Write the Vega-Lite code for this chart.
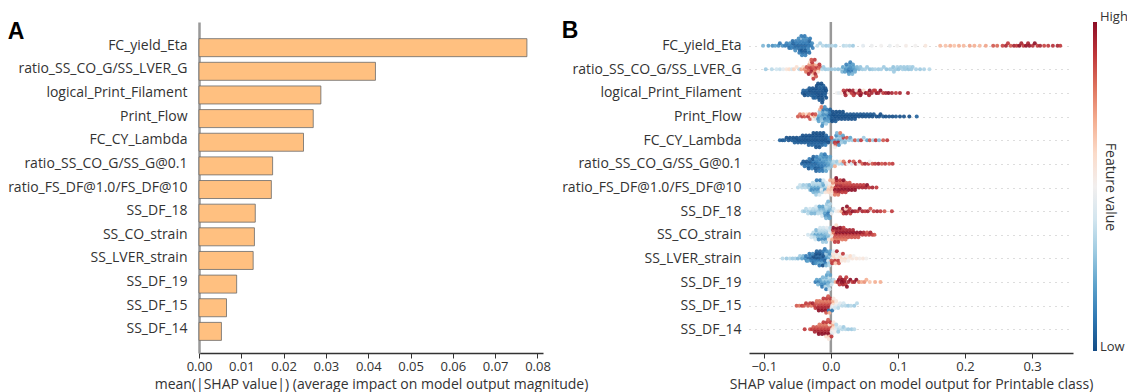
{
"$schema":"https://vega.github.io/schema/vega-lite/v6.json",
"autosize":{"type":"none"},
"padding":{"left":199,"top":22,"right":928,"bottom":370},
"bounds":"flush",
"spacing":206,
"datasets":{
"bars":[{"feature":"FC_yield_Eta","importance":0.0775},{"feature":"ratio_SS_CO_G/SS_LVER_G","importance":0.0417},{"feature":"logical_Print_Filament","importance":0.0288},{"feature":"Print_Flow","importance":0.0270},{"feature":"FC_CY_Lambda","importance":0.0247},{"feature":"ratio_SS_CO_G/SS_G@0.1","importance":0.0174},{"feature":"ratio_FS_DF@1.0/FS_DF@10","importance":0.0171},{"feature":"SS_DF_18","importance":0.0133},{"feature":"SS_CO_strain","importance":0.0131},{"feature":"SS_LVER_strain","importance":0.0128},{"feature":"SS_DF_19","importance":0.0089},{"feature":"SS_DF_15","importance":0.0065},{"feature":"SS_DF_14","importance":0.0053}],
"r1":[{"s":-0.101,"v":0.25},{"s":-0.093,"v":0.2},{"s":-0.087,"v":0.15},{"s":-0.083,"v":0.2},{"s":-0.078,"v":0.15},{"s":-0.076,"v":0.1},{"s":-0.072,"v":0.15},{"s":-0.068,"v":0.1},{"s":-0.066,"v":0.12},
{"s":-0.063,"v":0.1},{"s":-0.061,"v":0.15},{"s":-0.062,"v":0.08},
{"s":-0.058,"v":0.1},{"s":-0.056,"v":0.05},{"s":-0.059,"v":0.12},{"s":-0.057,"v":0.08},
{"s":-0.053,"v":0.05},{"s":-0.051,"v":0.1},{"s":-0.054,"v":0.08},{"s":-0.052,"v":0.12},{"s":-0.053,"v":0.15},
{"s":-0.048,"v":0.05},{"s":-0.046,"v":0.1},{"s":-0.049,"v":0.08},{"s":-0.047,"v":0.12},{"s":-0.046,"v":0.05},{"s":-0.048,"v":0.15},{"s":-0.047,"v":0.1},
{"s":-0.043,"v":0.05},{"s":-0.041,"v":0.1},{"s":-0.044,"v":0.08},{"s":-0.042,"v":0.12},{"s":-0.043,"v":0.03},{"s":-0.041,"v":0.15},{"s":-0.042,"v":0.05},{"s":-0.044,"v":0.1},{"s":-0.043,"v":0.12},
{"s":-0.038,"v":0.05},{"s":-0.036,"v":0.1},{"s":-0.039,"v":0.08},{"s":-0.037,"v":0.12},{"s":-0.038,"v":0.03},{"s":-0.036,"v":0.15},{"s":-0.037,"v":0.05},{"s":-0.039,"v":0.1},{"s":-0.038,"v":0.12},
{"s":-0.033,"v":0.08},{"s":-0.031,"v":0.1},{"s":-0.034,"v":0.12},{"s":-0.032,"v":0.05},{"s":-0.033,"v":0.15},{"s":-0.031,"v":0.1},{"s":-0.032,"v":0.08},
{"s":-0.029,"v":0.1},{"s":-0.028,"v":0.15},{"s":-0.027,"v":0.12},
{"s":-0.02,"v":0.35},{"s":-0.016,"v":0.32},{"s":-0.012,"v":0.35},{"s":-0.007,"v":0.3},{"s":-0.003,"v":0.33},{"s":0.002,"v":0.35},{"s":0.007,"v":0.3},{"s":0.019,"v":0.35},{"s":0.023,"v":0.38},{"s":0.028,"v":0.35},{"s":0.033,"v":0.3},
{"s":0.048,"v":0.45},{"s":0.061,"v":0.48},{"s":0.075,"v":0.5},{"s":0.088,"v":0.47},{"s":0.099,"v":0.5},{"s":0.112,"v":0.52},{"s":0.126,"v":0.5},{"s":0.141,"v":0.55},
{"s":0.163,"v":0.68},{"s":0.171,"v":0.66},{"s":0.178,"v":0.7},{"s":0.184,"v":0.65},{"s":0.191,"v":0.7},{"s":0.198,"v":0.68},{"s":0.207,"v":0.72},{"s":0.214,"v":0.7},{"s":0.222,"v":0.68},{"s":0.231,"v":0.72},
{"s":0.242,"v":0.85},{"s":0.248,"v":0.82},{"s":0.256,"v":0.88},{"s":0.261,"v":0.95},{"s":0.264,"v":0.9},{"s":0.268,"v":0.85},{"s":0.273,"v":0.95},{"s":0.277,"v":0.9},{"s":0.281,"v":1},{"s":0.284,"v":0.95},{"s":0.287,"v":0.9},{"s":0.291,"v":1},{"s":0.294,"v":0.95},{"s":0.296,"v":0.98},{"s":0.301,"v":0.92},{"s":0.304,"v":1},{"s":0.308,"v":0.9},{"s":0.312,"v":0.95},{"s":0.318,"v":0.88},{"s":0.324,"v":0.9},{"s":0.331,"v":0.92},{"s":0.338,"v":0.95},{"s":0.342,"v":0.9}],
"r2":[{"s":-0.097,"v":0.3},{"s":-0.088,"v":0.35},{"s":-0.081,"v":0.4},{"s":-0.076,"v":0.38},{"s":-0.071,"v":0.45},{"s":-0.066,"v":0.55},{"s":-0.062,"v":0.6},{"s":-0.058,"v":0.4},{"s":-0.055,"v":0.62},{"s":-0.051,"v":0.58},{"s":-0.047,"v":0.35},{"s":-0.044,"v":0.7},{"s":-0.041,"v":0.6},{"s":-0.039,"v":0.75},
{"s":-0.036,"v":0.85},{"s":-0.037,"v":0.8},
{"s":-0.033,"v":0.85},{"s":-0.031,"v":0.9},{"s":-0.034,"v":0.8},{"s":-0.032,"v":0.75},{"s":-0.033,"v":0.95},{"s":-0.031,"v":0.6},
{"s":-0.028,"v":0.9},{"s":-0.026,"v":0.85},{"s":-0.029,"v":0.95},{"s":-0.027,"v":0.8},{"s":-0.026,"v":0.7},{"s":-0.028,"v":0.9},{"s":-0.027,"v":0.6},{"s":-0.029,"v":0.85},{"s":-0.026,"v":0.9},
{"s":-0.023,"v":0.85},{"s":-0.021,"v":0.9},{"s":-0.024,"v":0.8},{"s":-0.022,"v":0.7},{"s":-0.023,"v":0.95},{"s":-0.021,"v":0.5},{"s":-0.022,"v":0.85},{"s":-0.024,"v":0.9},
{"s":-0.018,"v":0.8},{"s":-0.016,"v":0.85},{"s":-0.019,"v":0.6},{"s":-0.017,"v":0.9},
{"s":-0.013,"v":0.35},{"s":-0.011,"v":0.3},
{"s":-0.008,"v":0.3},{"s":-0.004,"v":0.32},{"s":0.001,"v":0.3},{"s":0.006,"v":0.3},{"s":0.011,"v":0.28},{"s":0.016,"v":0.3},
{"s":0.018,"v":0.2},{"s":0.017,"v":0.25},
{"s":0.022,"v":0.15},{"s":0.024,"v":0.2},{"s":0.021,"v":0.18},{"s":0.023,"v":0.12},
{"s":0.027,"v":0.12},{"s":0.029,"v":0.15},{"s":0.026,"v":0.1},{"s":0.028,"v":0.18},{"s":0.027,"v":0.2},{"s":0.029,"v":0.12},
{"s":0.032,"v":0.15},{"s":0.034,"v":0.2},{"s":0.031,"v":0.12},{"s":0.033,"v":0.18},{"s":0.032,"v":0.25},
{"s":0.037,"v":0.2},{"s":0.039,"v":0.25},{"s":0.036,"v":0.22},
{"s":0.042,"v":0.25},{"s":0.044,"v":0.28},
{"s":0.047,"v":0.3},{"s":0.051,"v":0.32},{"s":0.054,"v":0.3},{"s":0.058,"v":0.28},{"s":0.062,"v":0.3},{"s":0.066,"v":0.33},{"s":0.071,"v":0.3},{"s":0.075,"v":0.32},{"s":0.079,"v":0.3},{"s":0.083,"v":0.28},{"s":0.088,"v":0.3},{"s":0.091,"v":0.32},{"s":0.093,"v":0.28},{"s":0.094,"v":0.3},{"s":0.097,"v":0.3},{"s":0.099,"v":0.32},{"s":0.101,"v":0.28},{"s":0.104,"v":0.3},{"s":0.107,"v":0.32},{"s":0.109,"v":0.3},{"s":0.111,"v":0.3},{"s":0.114,"v":0.3},{"s":0.116,"v":0.28},{"s":0.118,"v":0.33},{"s":0.12,"v":0.3},{"s":0.122,"v":0.3},{"s":0.127,"v":0.32},{"s":0.133,"v":0.3},{"s":0.139,"v":0.33},{"s":0.147,"v":0.35}],
"r3":[{"s":-0.042,"v":0.02},{"s":-0.041,"v":0.05},
{"s":-0.038,"v":0.02},{"s":-0.036,"v":0.04},{"s":-0.039,"v":0},
{"s":-0.033,"v":0.02},{"s":-0.031,"v":0},{"s":-0.034,"v":0.04},{"s":-0.032,"v":0.03},
{"s":-0.028,"v":0},{"s":-0.026,"v":0.02},{"s":-0.029,"v":0.04},{"s":-0.027,"v":0.01},{"s":-0.026,"v":0.03},
{"s":-0.023,"v":0},{"s":-0.021,"v":0.02},{"s":-0.024,"v":0.03},{"s":-0.022,"v":0.01},{"s":-0.023,"v":0.04},{"s":-0.021,"v":0},
{"s":-0.018,"v":0},{"s":-0.016,"v":0.02},{"s":-0.019,"v":0.01},{"s":-0.017,"v":0.03},{"s":-0.018,"v":0},{"s":-0.016,"v":0.04},{"s":-0.017,"v":0.02},{"s":-0.019,"v":0},
{"s":-0.013,"v":0},{"s":-0.011,"v":0.02},{"s":-0.014,"v":0.01},{"s":-0.012,"v":0.03},{"s":-0.013,"v":0},{"s":-0.011,"v":0.04},{"s":-0.012,"v":0.02},{"s":-0.014,"v":0},{"s":-0.013,"v":0.01},
{"s":-0.008,"v":0.02},{"s":-0.007,"v":0},{"s":-0.009,"v":0.03},{"s":-0.008,"v":0.01},{"s":-0.007,"v":0},
{"s":0.009,"v":0.5},{"s":0.012,"v":0.45},{"s":0.016,"v":0.55},{"s":0.019,"v":0.9},{"s":0.021,"v":1},{"s":0.024,"v":0.95},{"s":0.026,"v":0.6},{"s":0.028,"v":1},{"s":0.031,"v":0.9},{"s":0.033,"v":0.95},{"s":0.036,"v":1},{"s":0.038,"v":0.55},{"s":0.041,"v":0.9},{"s":0.043,"v":1},{"s":0.046,"v":0.95},{"s":0.049,"v":0.6},{"s":0.052,"v":1},{"s":0.055,"v":0.9},{"s":0.058,"v":1},{"s":0.061,"v":0.95},{"s":0.064,"v":0.9},{"s":0.068,"v":1},{"s":0.071,"v":0.95},{"s":0.074,"v":1},{"s":0.078,"v":0.9},{"s":0.082,"v":0.95},{"s":0.086,"v":1},{"s":0.091,"v":0.95},{"s":0.097,"v":0.9},{"s":0.103,"v":0.95},{"s":0.115,"v":0.95},{"s":0.022,"v":0.95},{"s":0.034,"v":0.9},{"s":0.044,"v":1},{"s":0.057,"v":0.95},{"s":0.066,"v":0.9}],
"r4":[{"s":-0.049,"v":0.85},{"s":-0.046,"v":0.8},{"s":-0.043,"v":0.9},{"s":-0.041,"v":0.7},{"s":-0.039,"v":0.85},{"s":-0.036,"v":0.6},{"s":-0.034,"v":0.9},{"s":-0.032,"v":0.75},{"s":-0.031,"v":0.85},{"s":-0.028,"v":0.6},{"s":-0.027,"v":0.9},{"s":-0.026,"v":0.5},{"s":-0.024,"v":0.7},{"s":-0.023,"v":0.85},{"s":-0.022,"v":0.4},
{"s":-0.018,"v":0.2},{"s":-0.016,"v":0.25},{"s":-0.019,"v":0.15},{"s":-0.017,"v":0.3},{"s":-0.018,"v":0.2},{"s":-0.016,"v":0.7},
{"s":-0.013,"v":0.2},{"s":-0.011,"v":0.15},{"s":-0.014,"v":0.25},{"s":-0.012,"v":0.2},{"s":-0.013,"v":0.3},{"s":-0.011,"v":0.1},{"s":-0.012,"v":0.2},{"s":-0.014,"v":0.8},{"s":-0.013,"v":0.15},
{"s":-0.008,"v":0.2},{"s":-0.006,"v":0.15},{"s":-0.009,"v":0.1},{"s":-0.007,"v":0.25},{"s":-0.008,"v":0.2},{"s":-0.006,"v":0.1},{"s":-0.007,"v":0.3},{"s":-0.009,"v":0.15},
{"s":-0.003,"v":0.1},{"s":-0.001,"v":0.05},{"s":-0.004,"v":0.15},{"s":-0.002,"v":0.1},{"s":-0.003,"v":0.2},{"s":-0.001,"v":0.05},
{"s":0.002,"v":0.02},{"s":0.004,"v":0},{"s":0.001,"v":0.03},{"s":0.003,"v":0.01},{"s":0.002,"v":0},
{"s":0.007,"v":0},{"s":0.009,"v":0.02},{"s":0.006,"v":0.01},{"s":0.008,"v":0},{"s":0.007,"v":0.03},
{"s":0.012,"v":0},{"s":0.014,"v":0.02},{"s":0.011,"v":0.01},{"s":0.013,"v":0},
{"s":0.017,"v":0},{"s":0.019,"v":0.02},{"s":0.016,"v":0.01},{"s":0.018,"v":0},
{"s":0.022,"v":0},{"s":0.024,"v":0.02},{"s":0.021,"v":0.01},
{"s":0.027,"v":0},{"s":0.029,"v":0.02},{"s":0.026,"v":0.01},
{"s":0.032,"v":0},{"s":0.034,"v":0.02},{"s":0.031,"v":0.01},
{"s":0.037,"v":0},{"s":0.039,"v":0.02},{"s":0.036,"v":0.01},
{"s":0.042,"v":0},{"s":0.044,"v":0.02},{"s":0.047,"v":0},{"s":0.049,"v":0.02},{"s":0.052,"v":0},{"s":0.054,"v":0.02},{"s":0.057,"v":0},{"s":0.059,"v":0.02},
{"s":0.062,"v":0},{"s":0.064,"v":0.02},{"s":0.068,"v":0},{"s":0.072,"v":0.01},{"s":0.074,"v":0},{"s":0.078,"v":0.02},{"s":0.082,"v":0},{"s":0.087,"v":0.01},{"s":0.092,"v":0},{"s":0.097,"v":0.02},{"s":0.103,"v":0},{"s":0.109,"v":0.01},{"s":0.117,"v":0},{"s":0.128,"v":0.05}],
"r5":[{"s":-0.076,"v":0.05},{"s":-0.072,"v":0.02},{"s":-0.069,"v":0.05},{"s":-0.066,"v":0},
{"s":-0.063,"v":0.02},{"s":-0.061,"v":0},{"s":-0.058,"v":0.03},{"s":-0.056,"v":0},
{"s":-0.053,"v":0.02},{"s":-0.051,"v":0},{"s":-0.054,"v":0.04},
{"s":-0.048,"v":0},{"s":-0.046,"v":0.02},{"s":-0.049,"v":0.03},
{"s":-0.043,"v":0},{"s":-0.041,"v":0.02},{"s":-0.044,"v":0.03},{"s":-0.042,"v":0.01},
{"s":-0.038,"v":0},{"s":-0.036,"v":0.02},{"s":-0.039,"v":0.03},{"s":-0.037,"v":0.01},
{"s":-0.033,"v":0},{"s":-0.031,"v":0.02},{"s":-0.034,"v":0.03},{"s":-0.032,"v":0.01},{"s":-0.033,"v":0.05},
{"s":-0.028,"v":0},{"s":-0.026,"v":0.02},{"s":-0.029,"v":0.03},{"s":-0.027,"v":0.01},{"s":-0.028,"v":0.05},{"s":-0.026,"v":0},
{"s":-0.023,"v":0},{"s":-0.021,"v":0.02},{"s":-0.024,"v":0.03},{"s":-0.022,"v":0.01},{"s":-0.023,"v":0.05},{"s":-0.021,"v":0},{"s":-0.022,"v":0.02},
{"s":-0.018,"v":0},{"s":-0.016,"v":0.02},{"s":-0.019,"v":0.03},{"s":-0.017,"v":0.01},{"s":-0.018,"v":0.05},{"s":-0.016,"v":0},{"s":-0.017,"v":0.02},
{"s":-0.013,"v":0},{"s":-0.011,"v":0.02},{"s":-0.014,"v":0.03},{"s":-0.012,"v":0.01},{"s":-0.013,"v":0.05},{"s":-0.011,"v":0},
{"s":-0.008,"v":0},{"s":-0.006,"v":0.02},{"s":-0.009,"v":0.03},{"s":-0.007,"v":0.05},{"s":-0.008,"v":0.1},
{"s":-0.003,"v":0.05},{"s":-0.002,"v":0.1},{"s":-0.004,"v":0},
{"s":0.003,"v":0.2},{"s":0.001,"v":0.85},{"s":0.004,"v":0.25},
{"s":0.007,"v":0.2},{"s":0.009,"v":0.3},{"s":0.006,"v":0.9},{"s":0.008,"v":0.15},{"s":0.007,"v":0.85},{"s":0.009,"v":0.25},{"s":0.006,"v":0.5},
{"s":0.012,"v":0.2},{"s":0.014,"v":0.3},{"s":0.011,"v":0.95},{"s":0.013,"v":0.25},{"s":0.012,"v":0.15},{"s":0.014,"v":0.8},
{"s":0.017,"v":0.25},{"s":0.019,"v":0.9},{"s":0.016,"v":0.3},{"s":0.018,"v":0.2},
{"s":0.022,"v":0.3},{"s":0.024,"v":0.85},{"s":0.021,"v":0.25},
{"s":0.027,"v":0.3},{"s":0.029,"v":0.2},
{"s":0.032,"v":0.3},{"s":0.036,"v":0.85},{"s":0.041,"v":0.25},{"s":0.045,"v":0.9},{"s":0.049,"v":0.3},{"s":0.054,"v":0.2},{"s":0.058,"v":0.85},{"s":0.063,"v":0.3},{"s":0.067,"v":0.9},{"s":0.072,"v":0.25},{"s":0.078,"v":0.85},{"s":0.084,"v":0.9}],
"r6":[{"s":-0.043,"v":0.05},{"s":-0.041,"v":0.02},
{"s":-0.038,"v":0.05},{"s":-0.036,"v":0.02},{"s":-0.039,"v":0.08},
{"s":-0.033,"v":0.05},{"s":-0.031,"v":0.02},{"s":-0.034,"v":0.08},{"s":-0.032,"v":0.1},{"s":-0.033,"v":0.03},
{"s":-0.028,"v":0.05},{"s":-0.026,"v":0.1},{"s":-0.029,"v":0.08},{"s":-0.027,"v":0.02},{"s":-0.028,"v":0.12},{"s":-0.026,"v":0.05},
{"s":-0.023,"v":0.05},{"s":-0.021,"v":0.1},{"s":-0.024,"v":0.08},{"s":-0.022,"v":0.15},{"s":-0.023,"v":0.03},{"s":-0.021,"v":0.12},{"s":-0.022,"v":0.05},
{"s":-0.018,"v":0.1},{"s":-0.016,"v":0.15},{"s":-0.019,"v":0.08},{"s":-0.017,"v":0.12},{"s":-0.018,"v":0.05},{"s":-0.016,"v":0.2},{"s":-0.017,"v":0.1},
{"s":-0.013,"v":0.12},{"s":-0.011,"v":0.15},{"s":-0.014,"v":0.1},{"s":-0.012,"v":0.2},{"s":-0.013,"v":0.08},{"s":-0.011,"v":0.15},{"s":-0.012,"v":0.1},{"s":-0.014,"v":0.18},
{"s":-0.008,"v":0.15},{"s":-0.006,"v":0.2},{"s":-0.009,"v":0.12},{"s":-0.007,"v":0.18},{"s":-0.008,"v":0.25},{"s":-0.006,"v":0.15},{"s":-0.007,"v":0.2},{"s":-0.009,"v":0.1},
{"s":-0.003,"v":0.2},{"s":-0.001,"v":0.25},{"s":-0.004,"v":0.18},{"s":-0.002,"v":0.22},{"s":-0.003,"v":0.3},{"s":-0.001,"v":0.2},
{"s":0.002,"v":0.3},{"s":0.004,"v":0.35},{"s":0.001,"v":0.28},
{"s":0.007,"v":0.35},{"s":0.009,"v":0.3},{"s":0.006,"v":0.7},
{"s":0.012,"v":0.35},{"s":0.014,"v":0.6},{"s":0.017,"v":0.3},{"s":0.019,"v":0.8},
{"s":0.022,"v":0.85},{"s":0.025,"v":0.5},{"s":0.028,"v":0.9},{"s":0.031,"v":0.4},{"s":0.034,"v":0.85},{"s":0.037,"v":0.95},{"s":0.041,"v":0.5},{"s":0.043,"v":0.9},{"s":0.047,"v":0.85},{"s":0.051,"v":0.95},{"s":0.056,"v":0.9},{"s":0.058,"v":0.5},{"s":0.062,"v":0.85},{"s":0.066,"v":0.9},{"s":0.071,"v":0.95},{"s":0.076,"v":0.85},{"s":0.081,"v":0.9},{"s":0.087,"v":0.85},{"s":0.092,"v":0.9}],
"r7":[{"s":-0.049,"v":0.35},{"s":-0.046,"v":0.38},{"s":-0.043,"v":0.35},{"s":-0.041,"v":0.3},{"s":-0.038,"v":0.35},{"s":-0.036,"v":0.32},{"s":-0.033,"v":0.3},
{"s":-0.032,"v":0.25},{"s":-0.031,"v":0.3},
{"s":-0.028,"v":0.2},{"s":-0.026,"v":0.3},{"s":-0.029,"v":0.15},{"s":-0.027,"v":0.35},{"s":-0.026,"v":0.25},
{"s":-0.023,"v":0.2},{"s":-0.021,"v":0.3},{"s":-0.024,"v":0.15},{"s":-0.022,"v":0.35},{"s":-0.023,"v":0.25},{"s":-0.021,"v":0.1},{"s":-0.022,"v":0.3},
{"s":-0.018,"v":0.2},{"s":-0.016,"v":0.3},{"s":-0.019,"v":0.15},{"s":-0.017,"v":0.35},{"s":-0.018,"v":0.25},{"s":-0.016,"v":0.1},{"s":-0.017,"v":0.4},
{"s":-0.013,"v":0.3},{"s":-0.011,"v":0.2},{"s":-0.014,"v":0.45},{"s":-0.012,"v":0.25},{"s":-0.013,"v":0.35},{"s":-0.011,"v":0.4},
{"s":-0.008,"v":0.3},{"s":-0.006,"v":0.4},{"s":-0.009,"v":0.2},{"s":-0.007,"v":0.45},{"s":-0.008,"v":0.55},
{"s":-0.003,"v":0.6},{"s":-0.001,"v":0.55},{"s":-0.004,"v":0.65},{"s":-0.002,"v":0.5},{"s":-0.003,"v":0.6},{"s":-0.001,"v":0.7},
{"s":0.002,"v":0.7},{"s":0.004,"v":0.6},{"s":0.001,"v":0.65},{"s":0.003,"v":0.75},{"s":0.002,"v":0.6},{"s":0.004,"v":0.7},{"s":0.001,"v":0.55},
{"s":0.007,"v":0.9},{"s":0.009,"v":0.95},{"s":0.006,"v":1},{"s":0.008,"v":0.85},{"s":0.007,"v":0.9},{"s":0.009,"v":0.95},{"s":0.006,"v":0.8},{"s":0.008,"v":1},
{"s":0.012,"v":0.9},{"s":0.014,"v":0.95},{"s":0.011,"v":1},{"s":0.013,"v":0.85},{"s":0.012,"v":0.95},{"s":0.014,"v":0.9},{"s":0.011,"v":0.8},
{"s":0.017,"v":0.95},{"s":0.019,"v":0.9},{"s":0.016,"v":1},{"s":0.018,"v":0.85},{"s":0.017,"v":0.9},{"s":0.019,"v":1},
{"s":0.022,"v":0.95},{"s":0.024,"v":0.9},{"s":0.021,"v":1},{"s":0.023,"v":0.85},{"s":0.022,"v":0.9},
{"s":0.027,"v":0.95},{"s":0.029,"v":0.9},{"s":0.026,"v":1},{"s":0.028,"v":0.85},
{"s":0.032,"v":0.95},{"s":0.034,"v":0.9},{"s":0.031,"v":1},
{"s":0.037,"v":0.95},{"s":0.039,"v":0.9},{"s":0.036,"v":1},
{"s":0.042,"v":0.95},{"s":0.044,"v":0.9},{"s":0.047,"v":0.95},{"s":0.049,"v":0.9},{"s":0.052,"v":0.95},{"s":0.054,"v":1},
{"s":0.057,"v":0.9},{"s":0.062,"v":0.95},{"s":0.068,"v":0.9}],
"r8":[{"s":-0.042,"v":0.35},
{"s":-0.039,"v":0.3},{"s":-0.037,"v":0.35},
{"s":-0.033,"v":0.3},{"s":-0.031,"v":0.4},{"s":-0.034,"v":0.35},
{"s":-0.028,"v":0.3},{"s":-0.026,"v":0.35},{"s":-0.029,"v":0.25},
{"s":-0.023,"v":0.3},{"s":-0.021,"v":0.35},{"s":-0.024,"v":0.25},{"s":-0.022,"v":0.4},
{"s":-0.018,"v":0.3},{"s":-0.016,"v":0.25},{"s":-0.019,"v":0.35},{"s":-0.017,"v":0.2},
{"s":-0.013,"v":0.3},{"s":-0.011,"v":0.25},{"s":-0.014,"v":0.35},{"s":-0.012,"v":0.2},{"s":-0.013,"v":0.4},
{"s":-0.008,"v":0.25},{"s":-0.006,"v":0.3},{"s":-0.009,"v":0.2},{"s":-0.007,"v":0.35},{"s":-0.008,"v":0.15},{"s":-0.006,"v":0.3},{"s":-0.007,"v":0.25},
{"s":-0.003,"v":0.2},{"s":-0.001,"v":0.25},{"s":-0.004,"v":0.1},{"s":-0.002,"v":0.3},{"s":-0.003,"v":0.15},{"s":-0.001,"v":0.35},{"s":-0.002,"v":0.2},{"s":-0.004,"v":0.25},
{"s":0.002,"v":0.3},{"s":0.004,"v":0.4},{"s":0.001,"v":0.45},
{"s":0.008,"v":0.5},{"s":0.012,"v":0.55},{"s":0.016,"v":0.7},{"s":0.018,"v":1},{"s":0.019,"v":0.9},{"s":0.021,"v":1},{"s":0.022,"v":0.6},{"s":0.023,"v":0.95},{"s":0.024,"v":1},{"s":0.026,"v":0.95},{"s":0.028,"v":0.9},{"s":0.029,"v":0.9},{"s":0.032,"v":1},{"s":0.036,"v":0.95},{"s":0.04,"v":0.9},{"s":0.043,"v":1},{"s":0.047,"v":0.95},{"s":0.051,"v":0.9},{"s":0.055,"v":0.95},{"s":0.059,"v":0.85},{"s":0.064,"v":0.9},{"s":0.069,"v":0.95},{"s":0.074,"v":0.9},{"s":0.08,"v":0.85},{"s":0.091,"v":0.9}],
"r9":[{"s":-0.034,"v":0.4},
{"s":-0.028,"v":0.3},{"s":-0.026,"v":0.35},{"s":-0.029,"v":0.4},
{"s":-0.023,"v":0.2},{"s":-0.021,"v":0.3},{"s":-0.024,"v":0.35},{"s":-0.022,"v":0.25},{"s":-0.023,"v":0.4},
{"s":-0.018,"v":0.2},{"s":-0.016,"v":0.3},{"s":-0.019,"v":0.25},{"s":-0.017,"v":0.35},{"s":-0.018,"v":0.15},{"s":-0.016,"v":0.4},
{"s":-0.013,"v":0.2},{"s":-0.011,"v":0.3},{"s":-0.014,"v":0.25},{"s":-0.012,"v":0.35},{"s":-0.013,"v":0.15},{"s":-0.011,"v":0.4},{"s":-0.012,"v":0.3},
{"s":-0.008,"v":0.25},{"s":-0.006,"v":0.3},{"s":-0.009,"v":0.2},{"s":-0.007,"v":0.35},{"s":-0.008,"v":0.15},{"s":-0.006,"v":0.45},{"s":-0.007,"v":0.3},
{"s":-0.003,"v":0.3},{"s":-0.001,"v":0.5},{"s":-0.004,"v":0.25},{"s":-0.002,"v":0.4},{"s":-0.003,"v":0.55},{"s":-0.001,"v":0.35},
{"s":0.002,"v":0.6},{"s":0.004,"v":0.8},{"s":0.001,"v":0.5},{"s":0.003,"v":0.9},{"s":0.002,"v":0.7},{"s":0.004,"v":1},
{"s":0.007,"v":0.9},{"s":0.009,"v":1},{"s":0.006,"v":0.85},{"s":0.008,"v":0.95},{"s":0.007,"v":0.8},{"s":0.009,"v":1},{"s":0.006,"v":0.9},{"s":0.008,"v":0.6},
{"s":0.012,"v":0.9},{"s":0.014,"v":1},{"s":0.011,"v":0.85},{"s":0.013,"v":0.95},{"s":0.012,"v":0.8},{"s":0.014,"v":1},{"s":0.011,"v":0.9},
{"s":0.017,"v":0.9},{"s":0.019,"v":1},{"s":0.016,"v":0.85},{"s":0.018,"v":0.95},{"s":0.017,"v":0.8},{"s":0.019,"v":0.9},
{"s":0.022,"v":0.9},{"s":0.024,"v":1},{"s":0.021,"v":0.85},{"s":0.023,"v":0.95},{"s":0.022,"v":0.8},
{"s":0.027,"v":0.9},{"s":0.029,"v":1},{"s":0.026,"v":0.85},{"s":0.028,"v":0.95},
{"s":0.032,"v":0.9},{"s":0.034,"v":1},{"s":0.031,"v":0.85},{"s":0.033,"v":0.95},
{"s":0.037,"v":0.9},{"s":0.039,"v":1},{"s":0.036,"v":0.85},
{"s":0.042,"v":0.9},{"s":0.044,"v":1},{"s":0.041,"v":0.85},
{"s":0.047,"v":0.9},{"s":0.049,"v":0.95},{"s":0.052,"v":0.9},{"s":0.054,"v":0.85},{"s":0.057,"v":0.9},{"s":0.059,"v":0.95},{"s":0.062,"v":0.9},{"s":0.065,"v":0.85}],
"r10":[{"s":-0.072,"v":0.35},{"s":-0.066,"v":0.3},{"s":-0.061,"v":0.35},{"s":-0.057,"v":0.3},{"s":-0.053,"v":0.32},{"s":-0.049,"v":0.25},{"s":-0.046,"v":0.3},{"s":-0.043,"v":0.2},{"s":-0.041,"v":0.25},{"s":-0.038,"v":0.15},
{"s":-0.037,"v":0.1},{"s":-0.036,"v":0.15},
{"s":-0.033,"v":0.05},{"s":-0.031,"v":0.1},{"s":-0.034,"v":0.2},{"s":-0.032,"v":0.1},
{"s":-0.028,"v":0.05},{"s":-0.026,"v":0},{"s":-0.029,"v":0.1},{"s":-0.027,"v":0.15},{"s":-0.026,"v":0.05},
{"s":-0.023,"v":0},{"s":-0.021,"v":0.05},{"s":-0.024,"v":0.1},{"s":-0.022,"v":0},{"s":-0.023,"v":0.15},{"s":-0.021,"v":0.05},
{"s":-0.018,"v":0},{"s":-0.016,"v":0.05},{"s":-0.019,"v":0.1},{"s":-0.017,"v":0},{"s":-0.018,"v":0.2},{"s":-0.016,"v":0.05},{"s":-0.017,"v":0.1},
{"s":-0.013,"v":0.05},{"s":-0.011,"v":0},{"s":-0.014,"v":0.1},{"s":-0.012,"v":0.05},{"s":-0.013,"v":0.2},{"s":-0.011,"v":0.1},{"s":-0.012,"v":0},
{"s":-0.008,"v":0.1},{"s":-0.006,"v":0.2},{"s":-0.009,"v":0.05},{"s":-0.007,"v":0.3},{"s":-0.008,"v":0.1},{"s":-0.006,"v":0.15},{"s":-0.007,"v":0.25},{"s":-0.009,"v":0.1},
{"s":-0.003,"v":0.2},{"s":-0.001,"v":0.3},{"s":-0.004,"v":0.4},{"s":-0.002,"v":0.15},{"s":-0.003,"v":0.3},{"s":-0.001,"v":0.2},{"s":-0.002,"v":0.35},
{"s":0.002,"v":0.5},{"s":0.004,"v":0.6},{"s":0.001,"v":0.85},{"s":0.003,"v":0.55},{"s":0.002,"v":0.9},{"s":0.004,"v":0.45},
{"s":0.007,"v":0.6},{"s":0.009,"v":0.5},{"s":0.006,"v":0.9},{"s":0.008,"v":0.55},{"s":0.007,"v":0.65},{"s":0.009,"v":0.95},
{"s":0.012,"v":0.55},{"s":0.014,"v":0.6},{"s":0.011,"v":0.9},{"s":0.013,"v":0.5},{"s":0.012,"v":0.85},
{"s":0.017,"v":0.6},{"s":0.019,"v":0.5},{"s":0.016,"v":0.55},{"s":0.018,"v":0.9},
{"s":0.022,"v":0.6},{"s":0.024,"v":0.5},{"s":0.021,"v":0.55},
{"s":0.027,"v":0.55},{"s":0.029,"v":0.6},{"s":0.026,"v":0.5},
{"s":0.032,"v":0.55},{"s":0.034,"v":0.5},
{"s":0.038,"v":0.55},{"s":0.043,"v":0.52},{"s":0.048,"v":0.55},{"s":0.053,"v":0.5}],
"r11":[{"s":-0.023,"v":0.1},{"s":-0.021,"v":0.2},
{"s":-0.018,"v":0.1},{"s":-0.016,"v":0.2},{"s":-0.019,"v":0.25},
{"s":-0.013,"v":0.2},{"s":-0.011,"v":0.3},{"s":-0.014,"v":0.15},{"s":-0.012,"v":0.25},{"s":-0.013,"v":0.1},
{"s":-0.008,"v":0.2},{"s":-0.006,"v":0.3},{"s":-0.009,"v":0.15},{"s":-0.007,"v":0.25},{"s":-0.008,"v":0.35},{"s":-0.006,"v":0.2},{"s":-0.007,"v":0.1},
{"s":-0.003,"v":0.2},{"s":-0.001,"v":0.3},{"s":-0.004,"v":0.25},{"s":-0.002,"v":0.35},{"s":-0.003,"v":0.3},{"s":-0.001,"v":0.2},{"s":-0.002,"v":0.4},{"s":-0.004,"v":0.25},
{"s":0.002,"v":0.3},{"s":0.004,"v":0.35},{"s":0.001,"v":0.4},
{"s":0.007,"v":0.7},{"s":0.01,"v":0.95},{"s":0.012,"v":1},{"s":0.013,"v":0.9},{"s":0.014,"v":0.9},{"s":0.016,"v":1},{"s":0.017,"v":1},{"s":0.018,"v":0.95},{"s":0.02,"v":1},{"s":0.021,"v":0.95},{"s":0.022,"v":0.9},{"s":0.023,"v":0.9},{"s":0.024,"v":1},{"s":0.026,"v":0.95},{"s":0.029,"v":1},{"s":0.032,"v":0.9},{"s":0.035,"v":0.95},{"s":0.038,"v":1},{"s":0.042,"v":0.8},{"s":0.046,"v":0.7},{"s":0.05,"v":0.75},{"s":0.053,"v":0.7},{"s":0.058,"v":0.65},{"s":0.066,"v":0.7},{"s":0.074,"v":0.7}],
"r12":[{"s":-0.051,"v":0.85},{"s":-0.047,"v":0.8},{"s":-0.043,"v":0.9},{"s":-0.04,"v":0.85},{"s":-0.037,"v":0.9},{"s":-0.034,"v":0.85},{"s":-0.031,"v":0.9},{"s":-0.029,"v":0.8},{"s":-0.027,"v":0.95},{"s":-0.024,"v":0.9},{"s":-0.022,"v":0.85},
{"s":-0.023,"v":0.9},{"s":-0.021,"v":0.8},
{"s":-0.018,"v":0.9},{"s":-0.016,"v":0.85},{"s":-0.019,"v":0.95},{"s":-0.017,"v":0.8},{"s":-0.018,"v":1},
{"s":-0.013,"v":0.9},{"s":-0.011,"v":0.85},{"s":-0.014,"v":0.95},{"s":-0.012,"v":0.8},{"s":-0.013,"v":1},{"s":-0.011,"v":0.9},
{"s":-0.008,"v":0.9},{"s":-0.006,"v":0.85},{"s":-0.009,"v":0.95},{"s":-0.007,"v":0.8},{"s":-0.008,"v":1},{"s":-0.006,"v":0.9},{"s":-0.007,"v":0.85},
{"s":-0.003,"v":0.9},{"s":-0.001,"v":0.85},{"s":-0.004,"v":0.95},{"s":-0.002,"v":0.8},{"s":-0.003,"v":0.1},{"s":-0.001,"v":0.9},{"s":-0.002,"v":0.7},{"s":-0.004,"v":0.85},
{"s":0.002,"v":0.5},{"s":0.004,"v":0.6},{"s":0.001,"v":0.45},{"s":0.003,"v":0.7},{"s":0.002,"v":0.1},{"s":0.004,"v":0.55},
{"s":0.007,"v":0.45},{"s":0.009,"v":0.5},{"s":0.006,"v":0.4},{"s":0.008,"v":0.55},
{"s":0.012,"v":0.4},{"s":0.014,"v":0.45},{"s":0.011,"v":0.35},
{"s":0.017,"v":0.35},{"s":0.019,"v":0.4},
{"s":0.022,"v":0.35},{"s":0.026,"v":0.3},{"s":0.03,"v":0.35},{"s":0.035,"v":0.3},{"s":0.039,"v":0.35}],
"r13":[{"s":-0.039,"v":0.9},{"s":-0.031,"v":0.85},{"s":-0.028,"v":0.9},{"s":-0.026,"v":0.85},
{"s":-0.023,"v":0.9},{"s":-0.021,"v":0.85},{"s":-0.024,"v":0.95},
{"s":-0.018,"v":0.9},{"s":-0.016,"v":0.85},{"s":-0.019,"v":0.95},{"s":-0.017,"v":0.8},{"s":-0.018,"v":1},
{"s":-0.013,"v":0.9},{"s":-0.011,"v":0.85},{"s":-0.014,"v":0.95},{"s":-0.012,"v":0.8},{"s":-0.013,"v":1},{"s":-0.011,"v":0.9},
{"s":-0.008,"v":0.9},{"s":-0.006,"v":0.85},{"s":-0.009,"v":0.95},{"s":-0.007,"v":0.8},{"s":-0.008,"v":1},{"s":-0.006,"v":0.9},{"s":-0.007,"v":0.6},
{"s":-0.003,"v":0.9},{"s":-0.001,"v":0.85},{"s":-0.004,"v":0.95},{"s":-0.002,"v":0.6},{"s":-0.003,"v":1},{"s":-0.001,"v":0.9},{"s":-0.002,"v":0.65},{"s":-0.004,"v":0.85},{"s":-0.003,"v":0.55},
{"s":0.002,"v":0.55},{"s":0.004,"v":0.6},{"s":0.001,"v":0.5},{"s":0.003,"v":0.7},{"s":0.002,"v":0.45},{"s":0.004,"v":0.55},{"s":0.001,"v":0.9},
{"s":0.007,"v":0.45},{"s":0.009,"v":0.4},{"s":0.006,"v":0.5},{"s":0.008,"v":0.35},
{"s":0.012,"v":0.35},{"s":0.014,"v":0.4},{"s":0.011,"v":0.3},
{"s":0.017,"v":0.35},{"s":0.019,"v":0.3},
{"s":0.022,"v":0.35},{"s":0.026,"v":0.3},{"s":0.031,"v":0.3},{"s":0.035,"v":0.35}]
},
"hconcat":[
{
"width":344,"height":331,
"title":{"text":"A","anchor":"start","frame":"bounds","font":"Liberation Sans","fontSize":23,"fontWeight":"bold","color":"#000000","baseline":"alphabetic","offset":-40},
"data":{"name":"bars"},
"mark":{"type":"bar","fill":"#FFC080","stroke":"#6a6a6a","strokeWidth":0.8},
"encoding":{
"y":{"field":"feature","type":"nominal","sort":null,"scale":{"domain":["FC_yield_Eta","ratio_SS_CO_G/SS_LVER_G","logical_Print_Filament","Print_Flow","FC_CY_Lambda","ratio_SS_CO_G/SS_G@0.1","ratio_FS_DF@1.0/FS_DF@10","SS_DF_18","SS_CO_strain","SS_LVER_strain","SS_DF_19","SS_DF_15","SS_DF_14"],"paddingInner":0.41,"paddingOuter":0.705},"axis":{"title":null,"ticks":false,"labelPadding":12,"domainColor":"#999999","domainWidth":2.5}},
"x":{"field":"importance","type":"quantitative","scale":{"domain":[0,0.0813],"nice":false},"axis":{"values":[0,0.01,0.02,0.03,0.04,0.05,0.06,0.07,0.08],"format":".2f","title":"mean(|SHAP value|) (average impact on model output magnitude)","domainWidth":1.5}}
}
},
{
"width":324,"height":331,
"title":{"text":"B","anchor":"start","frame":"bounds","font":"Liberation Sans","fontSize":23,"fontWeight":"bold","color":"#000000","baseline":"alphabetic","offset":-40},
"layer":[
{"data":{"values":[{}]},"mark":{"type":"rule","color":"#999999","strokeWidth":2.5},"encoding":{"x":{"datum":0,"type":"quantitative","scale":{"domain":[-0.122,0.361],"nice":false},"axis":{"values":[-0.1,0,0.1,0.2,0.3],"format":".1f","title":"SHAP value (impact on model output for Printable class)","domainWidth":1.5}}}},
{
"encoding":{
"x":{"field":"s","type":"quantitative"},
"yOffset":{"field":"k","type":"nominal","scale":{"type":"point","domain":[20,18,16,14,12,10,8,6,4,2,1,3,5,7,9,11,13,15,17,19,21],"range":[-25,25]}},
"color":{"field":"v","type":"quantitative","scale":{"scheme":"redblue","reverse":true,"domain":[0,1]},"legend":{"orient":"none","legendX":894,"legendY":0,"direction":"vertical","gradientLength":329,"gradientThickness":4,"gradientStrokeWidth":0,"values":[0,1],"labelExpr":"datum.value > 0.5 ? 'High' : 'Low'","title":"Feature value","titleOrient":"right","titleAngle":270,"titleAnchor":"middle","titlePadding":-25,"titleFontSize":14,"titleFontWeight":"normal","titleColor":"#333333","labelFontSize":13,"labelColor":"#333333","labelOffset":3,"encode":{"labels":{"update":{"dy":{"signal":"datum.value > 0.5 ? -11 : 3"}}}}}}
},
"layer":[
{"data":{"name":"r1"},"transform":[{"bin":{"step":0.005,"extent":[-0.15,0.4]},"field":"s","as":"b"},{"window":[{"op":"row_number","as":"k"}],"groupby":["b"]}],"mark":"circle","encoding":{"y":{"datum":"FC_yield_Eta","type":"nominal","scale":{"type":"point","padding":1,"domain":["FC_yield_Eta","ratio_SS_CO_G/SS_LVER_G","logical_Print_Filament","Print_Flow","FC_CY_Lambda","ratio_SS_CO_G/SS_G@0.1","ratio_FS_DF@1.0/FS_DF@10","SS_DF_18","SS_CO_strain","SS_LVER_strain","SS_DF_19","SS_DF_15","SS_DF_14"]},"axis":{"title":null,"domain":false,"ticks":false,"labelPadding":8,"grid":true,"gridColor":"#bbbbbb","gridDash":[1,5],"gridWidth":1}}}},
{"data":{"name":"r2"},"transform":[{"bin":{"step":0.005,"extent":[-0.15,0.4]},"field":"s","as":"b"},{"window":[{"op":"row_number","as":"k"}],"groupby":["b"]}],"mark":"circle","encoding":{"y":{"datum":"ratio_SS_CO_G/SS_LVER_G","type":"nominal"}}},
{"data":{"name":"r3"},"transform":[{"bin":{"step":0.005,"extent":[-0.15,0.4]},"field":"s","as":"b"},{"window":[{"op":"row_number","as":"k"}],"groupby":["b"]}],"mark":"circle","encoding":{"y":{"datum":"logical_Print_Filament","type":"nominal"}}},
{"data":{"name":"r4"},"transform":[{"bin":{"step":0.005,"extent":[-0.15,0.4]},"field":"s","as":"b"},{"window":[{"op":"row_number","as":"k"}],"groupby":["b"]}],"mark":"circle","encoding":{"y":{"datum":"Print_Flow","type":"nominal"}}},
{"data":{"name":"r5"},"transform":[{"bin":{"step":0.005,"extent":[-0.15,0.4]},"field":"s","as":"b"},{"window":[{"op":"row_number","as":"k"}],"groupby":["b"]}],"mark":"circle","encoding":{"y":{"datum":"FC_CY_Lambda","type":"nominal"}}},
{"data":{"name":"r6"},"transform":[{"bin":{"step":0.005,"extent":[-0.15,0.4]},"field":"s","as":"b"},{"window":[{"op":"row_number","as":"k"}],"groupby":["b"]}],"mark":"circle","encoding":{"y":{"datum":"ratio_SS_CO_G/SS_G@0.1","type":"nominal"}}},
{"data":{"name":"r7"},"transform":[{"bin":{"step":0.005,"extent":[-0.15,0.4]},"field":"s","as":"b"},{"window":[{"op":"row_number","as":"k"}],"groupby":["b"]}],"mark":"circle","encoding":{"y":{"datum":"ratio_FS_DF@1.0/FS_DF@10","type":"nominal"}}},
{"data":{"name":"r8"},"transform":[{"bin":{"step":0.005,"extent":[-0.15,0.4]},"field":"s","as":"b"},{"window":[{"op":"row_number","as":"k"}],"groupby":["b"]}],"mark":"circle","encoding":{"y":{"datum":"SS_DF_18","type":"nominal"}}},
{"data":{"name":"r9"},"transform":[{"bin":{"step":0.005,"extent":[-0.15,0.4]},"field":"s","as":"b"},{"window":[{"op":"row_number","as":"k"}],"groupby":["b"]}],"mark":"circle","encoding":{"y":{"datum":"SS_CO_strain","type":"nominal"}}},
{"data":{"name":"r10"},"transform":[{"bin":{"step":0.005,"extent":[-0.15,0.4]},"field":"s","as":"b"},{"window":[{"op":"row_number","as":"k"}],"groupby":["b"]}],"mark":"circle","encoding":{"y":{"datum":"SS_LVER_strain","type":"nominal"}}},
{"data":{"name":"r11"},"transform":[{"bin":{"step":0.005,"extent":[-0.15,0.4]},"field":"s","as":"b"},{"window":[{"op":"row_number","as":"k"}],"groupby":["b"]}],"mark":"circle","encoding":{"y":{"datum":"SS_DF_19","type":"nominal"}}},
{"data":{"name":"r12"},"transform":[{"bin":{"step":0.005,"extent":[-0.15,0.4]},"field":"s","as":"b"},{"window":[{"op":"row_number","as":"k"}],"groupby":["b"]}],"mark":"circle","encoding":{"y":{"datum":"SS_DF_15","type":"nominal"}}},
{"data":{"name":"r13"},"transform":[{"bin":{"step":0.005,"extent":[-0.15,0.4]},"field":"s","as":"b"},{"window":[{"op":"row_number","as":"k"}],"groupby":["b"]}],"mark":"circle","encoding":{"y":{"datum":"SS_DF_14","type":"nominal"}}}
]
}
]
}
],
"config":{"view":{"stroke":null},"font":"Open Sans","axis":{"grid":false,"labelFont":"Open Sans","titleFont":"Open Sans","labelFontSize":14,"titleFontSize":14,"labelColor":"#333333","titleColor":"#333333","titleFontWeight":"normal","domainColor":"#333333","tickColor":"#333333","labelLimit":400,"labelFlush":false},"axisX":{"labelFontSize":13},"circle":{"size":16,"opacity":0.9},"legend":{"labelFont":"Open Sans","titleFont":"Open Sans"}}
}
